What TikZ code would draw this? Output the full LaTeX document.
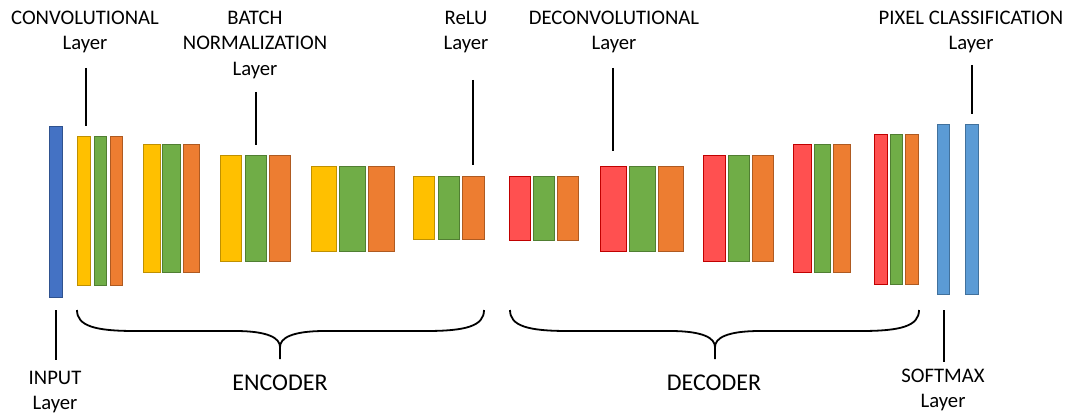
\documentclass[tikz,border=0pt]{standalone}
\usepackage{fontspec}
\setmainfont{Carlito}
\usetikzlibrary{calc}
\definecolor{inblue}{HTML}{4472C4}\definecolor{inblueD}{HTML}{2F528F}
\definecolor{yel}{HTML}{FFC000}\definecolor{yelD}{HTML}{BF9000}
\definecolor{grn}{HTML}{70AD47}\definecolor{grnD}{HTML}{507E32}
\definecolor{org}{HTML}{ED7D31}\definecolor{orgD}{HTML}{AE5A21}
\definecolor{rd}{HTML}{FF5050}\definecolor{rdD}{HTML}{C00000}
\definecolor{ltb}{HTML}{5B9BD5}\definecolor{ltbD}{HTML}{41719C}
% one layer slab: name, style, x1, y1, x2, y2 (outer edges)
\newcommand\lyr[6]{%
  \node[lbox,#2,minimum width={(#5-#3-1.3)*1pt},minimum height={(#6-#4-1.3)*1pt}]
    (#1) at ({(#3+#5)/2},{(#4+#6)/2}) {};}
% a curly brace under a block: name, left x, tip x, right x
\newcommand\bracebelow[4]{%
  \coordinate (#1L) at (#2,310);
  \coordinate (#1T) at (#3,359);
  \coordinate (#1R) at (#4,310);
  \draw[brc] (#1L) .. controls ($(#1L)+(0,16)$) and ($(#1L)+(18,21)$) .. ($(#1L)+(58,21)$)
     -- ($(#1T)+(-45,-28)$) .. controls ($(#1T)+(-12,-28)$) and ($(#1T)+(0,-21)$) .. ($(#1T)+(0,-12)$)
     -- (#1T);
  \draw[brc] ($(#1T)+(0,-12)$) .. controls ($(#1T)+(0,-21)$) and ($(#1T)+(12,-28)$) .. ($(#1T)+(45,-28)$)
     -- ($(#1R)+(-58,21)$) .. controls ($(#1R)+(-18,21)$) and ($(#1R)+(0,16)$) .. (#1R);}
\begin{document}
\begin{tikzpicture}[x=1pt,y=-1pt,
  lbox/.style={draw,line width=1.3pt,inner sep=0pt,outer sep=0pt,rectangle},
  inp/.style={fill=inblue,draw=inblueD},
  cv/.style={fill=yel,draw=yelD},
  bn/.style={fill=grn,draw=grnD},
  rl/.style={fill=org,draw=orgD},
  dc/.style={fill=rd,draw=rdD},
  px/.style={fill=ltb,draw=ltbD},
  lead/.style={draw=black,line width=1.8pt},
  brc/.style={draw=black,line width=1.8pt},
  lbl/.style={font=\fontsize{20.7}{25.5}\selectfont,align=center,inner sep=0pt,anchor=north},
  big/.style={font=\fontsize{24}{28}\selectfont,inner sep=0pt,anchor=north}]
\useasboundingbox (0,0) rectangle (1070,414);
\fill[white] (0,0) rectangle (1070,414);

% input
\lyr{in}{inp}{49}{126}{63}{298}
% encoder blocks: conv / batch norm / relu
\lyr{e1c}{cv}{77}{136}{91}{286}   \lyr{e1b}{bn}{94}{136}{107}{286}  \lyr{e1r}{rl}{110}{136}{123}{286}
\lyr{e2c}{cv}{143}{144}{161}{273} \lyr{e2b}{bn}{162}{144}{181}{273} \lyr{e2r}{rl}{183}{144}{200}{273}
\lyr{e3c}{cv}{220}{155}{242}{262} \lyr{e3b}{bn}{245}{155}{267}{262} \lyr{e3r}{rl}{269}{155}{291}{262}
\lyr{e4c}{cv}{311}{166}{337}{252} \lyr{e4b}{bn}{339}{166}{366}{252} \lyr{e4r}{rl}{368}{166}{395}{252}
\lyr{e5c}{cv}{413}{176}{435}{240} \lyr{e5b}{bn}{438}{176}{460}{240} \lyr{e5r}{rl}{462}{176}{485}{240}
% decoder blocks: deconv / batch norm / relu
\lyr{d1c}{dc}{509}{176}{531}{241} \lyr{d1b}{bn}{533}{176}{555}{241} \lyr{d1r}{rl}{557}{176}{579}{241}
\lyr{d2c}{dc}{600}{166}{627}{252} \lyr{d2b}{bn}{629}{166}{656}{252} \lyr{d2r}{rl}{658}{166}{684}{252}
\lyr{d3c}{dc}{703}{155}{726}{262} \lyr{d3b}{bn}{728}{155}{750}{262} \lyr{d3r}{rl}{752}{155}{774}{262}
\lyr{d4c}{dc}{793}{144}{812}{273} \lyr{d4b}{bn}{814}{144}{831}{273} \lyr{d4r}{rl}{833}{144}{851}{273}
\lyr{d5c}{dc}{874}{134}{888}{285} \lyr{d5b}{bn}{890}{134}{903}{285} \lyr{d5r}{rl}{905}{134}{919}{285}
% softmax and pixel classification
\lyr{sm}{px}{937}{124}{950}{295}
\lyr{pc}{px}{965}{124}{979}{295}

% labels
\node[lbl] (tconv)  at (85,10.8)  {CONVOLUTIONAL\\Layer};
\node[lbl] (tbn)    at (255,10.8) {BATCH\\NORMALIZATION\\Layer};
\node[lbl] (trelu)  at (466,10.8) {ReLU\\Layer};
\node[lbl] (tdec)   at (614,10.8) {DECONVOLUTIONAL\\Layer};
\node[lbl] (tpix)   at (971,10.8) {PIXEL CLASSIFICATION\\Layer};
\node[lbl] (tin)    at (55,370.8) {INPUT\\Layer};
\node[lbl] (tsm)    at (943,368.8) {SOFTMAX\\Layer};
\node[big] (tenc)   at (280,374.5) {ENCODER};
\node[big] (tdecd)  at (714,374.5) {DECODER};

% leader lines
\coordinate (a1) at (86,68);   \coordinate (b1) at (86,126);
\coordinate (a2) at (256,92);  \coordinate (b2) at (256,145);
\coordinate (a3) at (473,80);  \coordinate (b3) at (473,165);
\coordinate (a4) at (613,68);  \coordinate (b4) at (613,151);
\coordinate (a5) at (972,65);  \coordinate (b5) at (972,114);
\coordinate (a6) at (56,310);  \coordinate (b6) at (56,360);
\coordinate (a7) at (944,310); \coordinate (b7) at (944,362);
\foreach \p in {1,...,7} \draw[lead] (a\p) -- (b\p);

% braces
\bracebelow{enc}{77}{280}{484}
\bracebelow{dec}{510}{715}{919}
\end{tikzpicture}
\end{document}
